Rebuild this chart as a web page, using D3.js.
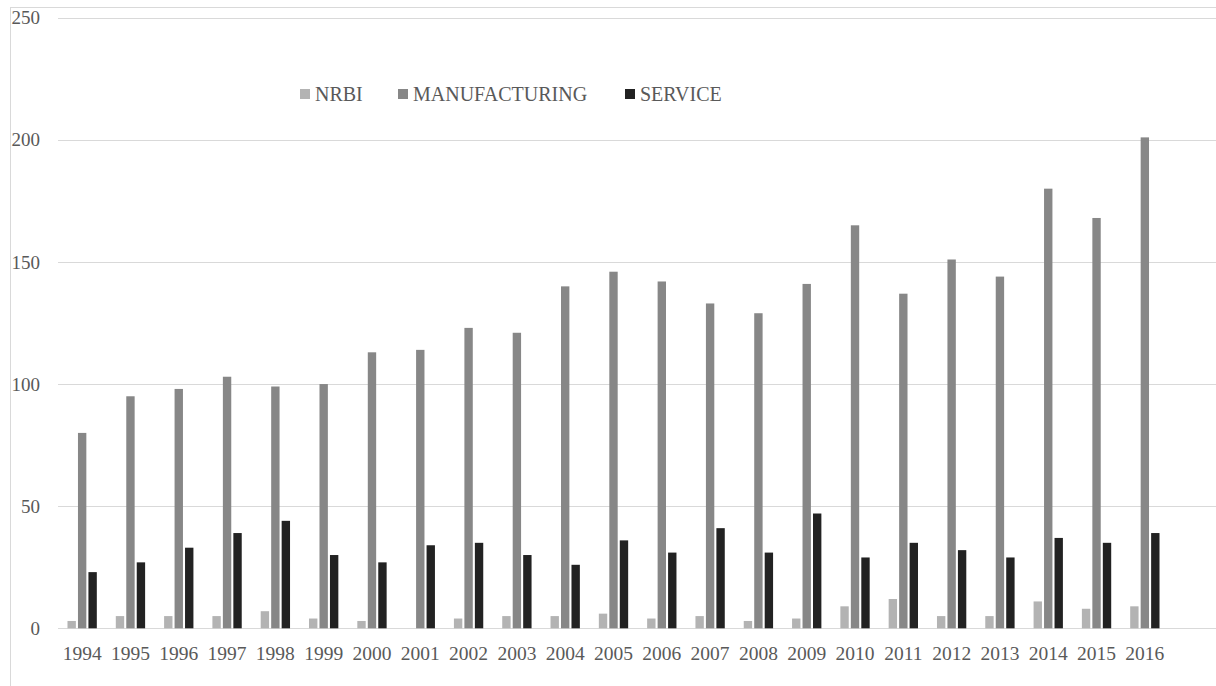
<!DOCTYPE html>
<html>
<head>
<meta charset="utf-8">
<script src="https://cdn.jsdelivr.net/npm/d3@7"></script>
<style>
  body { margin: 0; background: #fff; }
</style>
</head>
<body>
<svg id="chart" width="1216" height="686" font-family="Liberation Serif, DejaVu Serif, serif"></svg>
<script>
var years = ["1994", "1995", "1996", "1997", "1998", "1999", "2000", "2001", "2002", "2003", "2004", "2005",
  "2006", "2007", "2008", "2009", "2010", "2011", "2012", "2013", "2014", "2015", "2016"];
var seriesNames = ["NRBI", "MANUFACTURING", "SERVICE"];
var nrbi = [3, 5, 5, 5, 7, 4, 3, 0, 4, 5, 5, 6, 4, 5, 3, 4, 9, 12, 5, 5, 11, 8, 9];
var manufacturing = [80, 95, 98, 103, 99, 100, 113, 114, 123, 121, 140, 146, 142, 133, 129, 141, 165, 137, 151, 144, 180, 168, 201];
var service = [23, 27, 33, 39, 44, 30, 27, 34, 35, 30, 26, 36, 31, 41, 31, 47, 29, 35, 32, 29, 37, 35, 39];
var yTicks = [0, 50, 100, 150, 200, 250];

var colors = { NRBI: "#b3b3b3", MANUFACTURING: "#878787", SERVICE: "#222222" };
var values = { NRBI: nrbi, MANUFACTURING: manufacturing, SERVICE: service };

var svg = d3.select("#chart");
var plot = { left: 58, right: 1169, top: 17.7, bottom: 628.3 };

// chart frame (cropped on the right and bottom)
svg.append("line").attr("x1", 10).attr("x2", 1216).attr("y1", 7.5).attr("y2", 7.5)
  .attr("stroke", "#d9d9d9");
svg.append("line").attr("x1", 10.5).attr("x2", 10.5).attr("y1", 7).attr("y2", 686)
  .attr("stroke", "#d9d9d9");

var y = d3.scaleLinear().domain([0, 250]).range([plot.bottom, plot.top]);
var x0 = d3.scaleBand().domain(years).range([plot.left, plot.right])
  .paddingInner(0.393).paddingOuter(0.1965);
var x1 = d3.scaleBand().domain(seriesNames).range([0, x0.bandwidth()]).paddingInner(0.2);

// gridlines
svg.append("g").selectAll("line")
  .data(yTicks)
  .enter().append("line")
  .attr("x1", plot.left).attr("x2", 1216)
  .attr("y1", function (d) { return Math.round(y(d)) + 0.5; })
  .attr("y2", function (d) { return Math.round(y(d)) + 0.5; })
  .attr("stroke", "#d9d9d9")
  .attr("stroke-width", 1);

// y labels
svg.append("g").selectAll("text")
  .data(yTicks)
  .enter().append("text")
  .attr("x", 40)
  .attr("y", function (d) { return y(d); })
  .attr("dy", "0.35em")
  .attr("text-anchor", "end")
  .attr("font-family", "Liberation Serif")
  .style("font-size", "19px")
  .style("fill", "#595959")
  .text(function (d) { return d; });

// bars
var groups = svg.append("g").selectAll("g")
  .data(years)
  .enter().append("g")
  .attr("transform", function (d) { return "translate(" + x0(d) + ",0)"; });

groups.selectAll("rect")
  .data(function (d, i) {
    return seriesNames.map(function (name) { return { name: name, value: values[name][i] }; });
  })
  .enter().append("rect")
  .attr("x", function (d) { return x1(d.name); })
  .attr("y", function (d) { return y(d.value); })
  .attr("width", x1.bandwidth())
  .attr("height", function (d) { return y(0) - y(d.value); })
  .style("fill", function (d) { return colors[d.name]; });

// x labels
svg.append("g").selectAll("text")
  .data(years)
  .enter().append("text")
  .attr("x", function (d) { return x0(d) + x0.bandwidth() / 2; })
  .attr("y", 653)
  .attr("dy", "0.35em")
  .attr("text-anchor", "middle")
  .attr("font-family", "Liberation Serif")
  .style("font-size", "19.5px")
  .style("fill", "#595959")
  .text(function (d) { return d; });

// legend
var legendX = [300, 398, 625];
var legend = svg.append("g").selectAll("g")
  .data(seriesNames)
  .enter().append("g")
  .attr("transform", function (d, i) { return "translate(" + legendX[i] + ",94)"; });

legend.append("rect")
  .attr("x", 0).attr("y", -5)
  .attr("width", 10).attr("height", 10)
  .style("fill", function (d) { return colors[d]; });

legend.append("text")
  .attr("x", 15)
  .attr("y", 0)
  .attr("dy", "0.35em")
  .attr("font-family", "Liberation Serif")
  .style("font-size", "20px")
  .style("fill", "#595959")
  .text(function (d) { return d; });
</script>
</body>
</html>
